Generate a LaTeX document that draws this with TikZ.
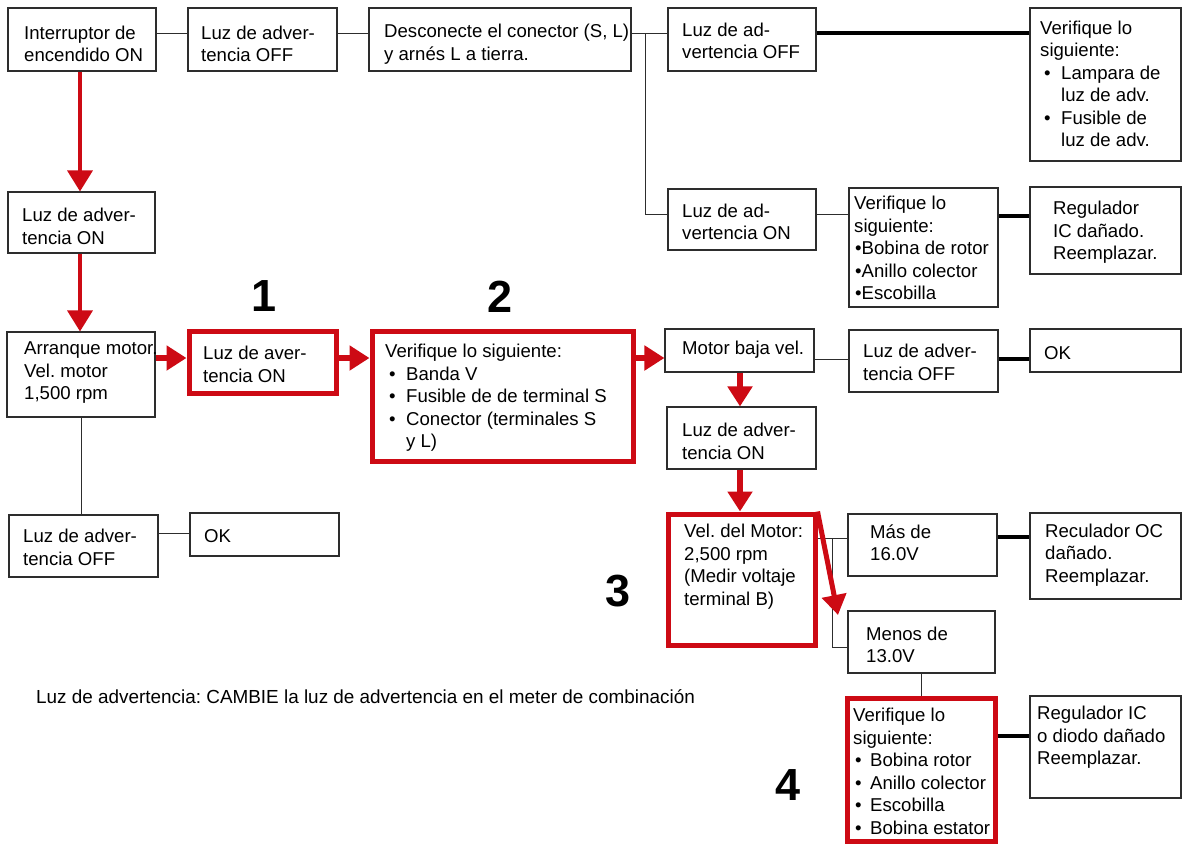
\documentclass[tikz,border=0pt]{standalone}
\usepackage{fontspec}
\setmainfont{Liberation Sans}
\usetikzlibrary{arrows.meta}
\definecolor{myred}{RGB}{205,10,20}
\definecolor{ink}{RGB}{45,45,45}
\newcommand\itembul[2]{\hspace*{#1}\makebox[#2][l]{•}}
\frenchspacing
\begin{document}
\begin{tikzpicture}[x=1pt,y=-1pt,
 box/.style={draw=ink, line width=1.1pt, inner sep=0pt},
 rbox/.style={draw=myred, line width=5pt, inner sep=0pt},
 txt/.style={anchor=west, align=left, inner sep=0pt, font=\fontsize{18.6}{22.5}\selectfont},
 ln/.style={draw=ink, line width=1pt},
 thk/.style={draw=black, line width=3.5pt},
 rarr/.style={draw=myred, line width=6pt, -{Triangle[length=20pt,width=24pt]}},
 rarrthin/.style={draw=myred, line width=3.6pt, -{Triangle[length=21pt,width=25pt]}},
 num/.style={font=\fontsize{45}{45}\selectfont\bfseries, inner sep=0pt}]
\fill[white] (0,0) rectangle (1184,844);
\useasboundingbox (0,0) rectangle (1184,844);

% boxes
\node[box, minimum width=148pt, minimum height=63pt] (A) at (82,39.5) {};
\node[box, minimum width=149pt, minimum height=63pt] (B) at (262.5,39.5) {};
\node[box, minimum width=262pt, minimum height=63pt] (C) at (500,39.5) {};
\node[box, minimum width=148pt, minimum height=63pt] (D) at (742,39.5) {};
\node[box, minimum width=151pt, minimum height=153pt] (E) at (1105.5,84.5) {};
\node[box, minimum width=148pt, minimum height=61pt] (F) at (742,219.5) {};
\node[box, minimum width=149pt, minimum height=119pt] (G) at (923.5,247.5) {};
\node[box, minimum width=151pt, minimum height=87pt] (H) at (1105.5,230.5) {};
\node[box, minimum width=147pt, minimum height=61pt] (I) at (81.5,222.5) {};
\node[box, minimum width=148pt, minimum height=85pt] (J) at (81,374.5) {};
\node[rbox, minimum width=147pt, minimum height=62pt] (K) at (262.5,362) {};
\node[rbox, minimum width=261pt, minimum height=130pt] (L) at (502.5,396) {};
\node[box, minimum width=149pt, minimum height=62pt] (W) at (83.5,546) {};
\node[box, minimum width=149pt, minimum height=43pt] (X) at (264.5,534.5) {};
\node[box, minimum width=149pt, minimum height=43pt] (M) at (739.5,350.5) {};
\node[box, minimum width=149pt, minimum height=62pt] (N) at (923.5,361) {};
\node[box, minimum width=151pt, minimum height=43pt] (O) at (1105.5,350.5) {};
\node[box, minimum width=149pt, minimum height=62pt] (P) at (741.5,438) {};
\node[rbox, minimum width=147pt, minimum height=131pt] (Q) at (741.5,579.5) {};
\node[box, minimum width=149pt, minimum height=62pt] (R) at (922.5,545) {};
\node[box, minimum width=151pt, minimum height=86pt] (S) at (1105.5,556) {};
\node[box, minimum width=147pt, minimum height=62pt] (T) at (921.5,642) {};
\node[rbox, minimum width=148pt, minimum height=143pt] (U) at (921,769.5) {};
\node[box, minimum width=151pt, minimum height=102pt] (V) at (1105.5,747) {};

% thin and thick connectors
\coordinate (cj) at (645,33);
\draw[ln] (A.east |- 0,33) -- (B.west |- 0,33);
\draw[ln] (B.east |- 0,33) -- (C.west |- 0,33);
\draw[ln] (C.east |- cj) -- (cj) |- (F.west |- 0,214);
\draw[ln] (cj) -- (D.west |- cj);
\draw[thk] (D.east |- 0,33) -- (E.west |- 0,33);
\draw[ln] (F.east |- 0,214) -- (G.west |- 0,214);
\draw[thk] (G.east |- 0,216) -- (H.west |- 0,216);
\draw[ln] (J.south -| 81,0) -- (W.north -| 81,0);
\draw[ln] (W.east |- 0,533) -- (X.west |- 0,533);
\draw[ln] (M.east |- 0,359) -- (N.west |- 0,359);
\draw[thk] (N.east |- 0,359) -- (O.west |- 0,359);
\draw[ln] (Q.east |- 0,538) -- (R.west |- 0,538);
\coordinate (qb) at (832,538);
\draw[ln] (qb) |- (T.west |- 0,647);
\draw[thk] (R.east |- 0,537) -- (S.west |- 0,537);
\draw[ln] (T.south -| 921,0) -- (U.north -| 921,0);
\draw[thk] (U.east |- 0,736) -- (V.west |- 0,736);

% red arrows
\draw[rarrthin] (A.south -| 80,0) -- (I.north -| 80,0);
\draw[rarrthin] (I.south -| 80,0) -- (J.north -| 80,0);
\draw[rarr] (J.east |- 0,358) -- (K.west |- 0,358);
\draw[rarr] (K.east |- 0,358) -- (L.west |- 0,358);
\draw[rarr] (L.east |- 0,358) -- (M.west |- 0,358);
\draw[rarr] (M.south -| 740,0) -- (P.north -| 740,0);
\draw[rarr] (P.south -| 740,0) -- (Q.north -| 740,0);
\coordinate (qt) at (838,615);
\draw[rarr, line width=5pt] (Q.north east) -- (qt);

% texts
\node[txt] (tA) at (24,44) {Interruptor de\\encendido ON};
\node[txt] (tB) at (201,44) {Luz de adver-\\tencia OFF};
\node[txt] (tC) at (384,44) {Desconecte el conector (S, L)\\y arnés L a tierra.};
\node[txt] (tD) at (682,41) {Luz de ad-\\vertencia OFF};
\node[txt] (tE) at (1040,84) {Verifique lo\\siguiente:\\\itembul{4pt}{17pt}Lampara de\\\hspace*{21pt}luz de adv.\\\itembul{4pt}{17pt}Fusible de\\\hspace*{21pt}luz de adv.};
\node[txt] (tF) at (682,222) {Luz de ad-\\vertencia ON};
\node[txt] (tG) at (854,248) {Verifique lo\\siguiente:\\\hspace*{1pt}•Bobina de rotor\\\hspace*{1pt}•Anillo colector\\\hspace*{1pt}•Escobilla};
\node[txt] (tH) at (1053,232.5) {Regulador\\IC dañado.\\Reemplazar.};
\node[txt] (tI) at (22,226.5) {Luz de adver-\\tencia ON};
\node[txt] (tJ) at (24,373) {Arranque motor.\\Vel. motor\\1,500 rpm};
\node[txt] (tK) at (203,364.5) {Luz de aver-\\tencia ON};
\node[txt] (tL) at (385,398) {Verifique lo siguiente:\\\itembul{4pt}{17pt}Banda V\\\itembul{4pt}{17pt}Fusible de de terminal S\\\itembul{4pt}{17pt}Conector (terminales S\\\hspace*{21pt}y L)};
\node[txt] (tW) at (23,547.5) {Luz de adver-\\tencia OFF};
\node[txt] (tX) at (204,536) {OK};
\node[txt] (tM) at (682,350) {Motor baja vel.};
\node[txt] (tN) at (863,362.5) {Luz de adver-\\tencia OFF};
\node[txt] (tO) at (1044,353) {OK};
\node[txt] (tP) at (682,441.5) {Luz de adver-\\tencia ON};
\node[txt] (tQ) at (684,566.5) {Vel. del Motor:\\2,500 rpm\\(Medir voltaje\\terminal B)};
\node[txt] (tR) at (870,542.5) {Más de\\16.0V};
\node[txt] (tS) at (1045,555) {Reculador OC\\dañado.\\Reemplazar.};
\node[txt] (tT) at (866,645) {Menos de\\13.0V};
\node[txt] (tU) at (853,771.5) {Verifique lo\\siguiente:\\\itembul{2pt}{15pt}Bobina rotor\\\itembul{2pt}{15pt}Anillo colector\\\itembul{2pt}{15pt}Escobilla\\\itembul{2pt}{15pt}Bobina estator};
\node[txt] (tV) at (1037,737.5) {Regulador IC\\o diodo dañado\\Reemplazar.};
\node[txt, font=\fontsize{18.9}{23}\selectfont] (note) at (36,697) {Luz de advertencia: CAMBIE la luz de advertencia en el meter de combinación};

% numbers
\node[num] (n1) at (264,296) {1};
\node[num] (n2) at (500,297) {2};
\node[num] (n3) at (618,591) {3};
\node[num] (n4) at (788,785) {4};
\end{tikzpicture}
\end{document}
